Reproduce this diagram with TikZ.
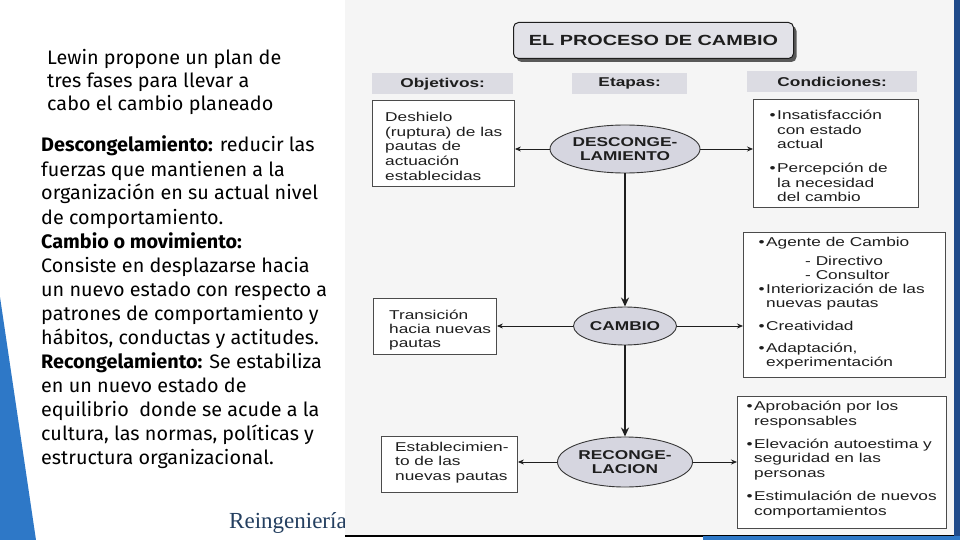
\documentclass[tikz,border=0pt]{standalone}
\usepackage{fontspec}
\setmainfont[FakeStretch=1.015]{Fira Sans}
\newfontfamily\diag[FakeStretch=1.35]{Liberation Sans}
\newfontfamily\serifr{Liberation Serif}
\usetikzlibrary{shapes.geometric,arrows.meta,shadows}
\definecolor{bandgray}{HTML}{DCDCE3}
\definecolor{ellfill}{HTML}{D6D6E0}
\definecolor{titlegray}{HTML}{E2E2E8}
\definecolor{imgbg}{HTML}{F5F5F5}
\definecolor{ink}{HTML}{1E1E1E}
\definecolor{blueL}{HTML}{2E78C7}
\definecolor{navy}{HTML}{1F4A8A}
\definecolor{reing}{HTML}{243F60}
\begin{document}
\begin{tikzpicture}[x=1pt,y=-1pt,
  lt/.style={font=\fontsize{19.5}{23}\selectfont, inner sep=0, anchor=base west, text=black},
  dt/.style={font=\diag\fontsize{12.8}{14.5}\selectfont, inner sep=0, anchor=base west, text=ink},
  frame/.style={draw=ink!80, line width=0.9pt, fill=white, inner sep=0, anchor=north west},
  band/.style={fill=bandgray, inner sep=0, anchor=north west, text=ink,
    font=\diag\bfseries\fontsize{12.8}{14.5}\selectfont},
  stage/.style={ellipse, draw=ink!90, line width=0.9pt, fill=ellfill, inner sep=0, align=center,
    text=ink, font=\diag\bfseries\fontsize{12.8}{14.5}\selectfont},
  harrow/.style={draw=ink, line width=0.8pt, -{Stealth[length=6pt,width=5pt]}},
  varrow/.style={draw=ink, line width=1.8pt, -{Stealth[length=9pt,width=8pt]}},
]
\useasboundingbox (0,0) rectangle (960,540);
\fill[white] (0,0) rectangle (960,540);
% blue wedge
\fill[blueL] (0,297) -- (36,540) -- (0,540) -- cycle;
% left text
\node[lt] (w1) at (47,65) {Lewin propone un plan de};
\node[lt] (w2) at (47,88) {tres fases para llevar a};
\node[lt] (w3) at (47,111) {cabo el cambio planeado};
\foreach \i/\t in {0/{\textbf{Descongelamiento:} reducir las},
  1/{fuerzas que mantienen a la},
  2/{organización en su actual nivel},
  3/{de comportamiento.},
  4/{\textbf{Cambio o movimiento:}},
  5/{Consiste en desplazarse hacia},
  6/{un nuevo estado con respecto a},
  7/{patrones de comportamiento y},
  8/{hábitos, conductas y actitudes.},
  9/{\textbf{Recongelamiento:} Se estabiliza},
  10/{en un nuevo estado de},
  11/{equilibrio\ \ donde se acude a la},
  12/{cultura, las normas, políticas y},
  13/{estructura organizacional.}}
  \node[lt] (p\i) at (41,152+24*\i) {\t};
\node[font=\serifr\fontsize{23}{25}\selectfont, text=reing, anchor=base west, inner sep=0] (reing) at (229,528) {Reingeniería};
% scanned picture area
\fill[imgbg] (345,0) rectangle (954,536);
\draw[black, line width=1.2pt] (345,536) -- (954,536);
\fill[navy] (954,0) rectangle (960,536);
\fill[blueL] (703,536) rectangle (960,540);
% title
\node[draw=ink, line width=1pt, rounded corners=5pt, fill=titlegray, minimum width=280, minimum height=36,
  anchor=north west, inner sep=0, text=ink, font=\diag\bfseries\fontsize{14.7}{16}\selectfont,
  drop shadow={shadow xshift=3pt, shadow yshift=-3.5pt, fill=black!65, opacity=1}] (title) at (513,22) {EL PROCESO DE CAMBIO};
% header bands
\node[band, minimum width=141, minimum height=21] (hobj) at (372,73) {Objetivos:};
\node[band, minimum width=115, minimum height=21] (heta) at (572,73) {Etapas:};
\node[band, minimum width=170, minimum height=21] (hcon) at (747,71) {Condiciones:};
% frames
\node[frame, minimum width=142, minimum height=86] (obj1) at (372,100) {};
\node[frame, minimum width=165, minimum height=108] (con1) at (753,99) {};
\node[frame, minimum width=123, minimum height=56] (obj2) at (373,298) {};
\node[frame, minimum width=202, minimum height=145] (con2) at (743,232) {};
\node[frame, minimum width=136, minimum height=56] (obj3) at (381,436) {};
\node[frame, minimum width=209, minimum height=132] (con3) at (737,396) {};
% stages
\node[stage, minimum width=150, minimum height=48] (e1) at (625,149) {DESCONGE-\\LAMIENTO};
\node[stage, minimum width=103, minimum height=38] (e2) at (625,326) {CAMBIO};
\node[stage, minimum width=135, minimum height=50] (e3) at (625,462) {RECONGE-\\LACION};
% connectors
\draw[varrow] (e1.south) -- (e2.north);
\draw[varrow] (e2.south) -- (e3.north);
\draw[harrow] (e1.west) -- (e1.west -| obj1.east);
\draw[harrow] (e1.east) -- (e1.east -| con1.west);
\draw[harrow] (e2.west) -- (e2.west -| obj2.east);
\draw[harrow] (e2.east) -- (e2.east -| con2.west);
\draw[harrow] (e3.west) -- (e3.west -| obj3.east);
\draw[harrow] (e3.east) -- (e3.east -| con3.west);
% frame texts
\foreach \i/\y/\t in {1/121.7/Deshielo, 2/136.4/{(ruptura) de las}, 3/151/{pautas de}, 4/165.8/actuación, 5/180.5/establecidas}
  \node[dt] (ta\i) at (385,\y) {\t};
\foreach \i/\y/\t in {1/120/{\llap{•\hspace{1.5pt}}Insatisfacción}, 2/134.5/{con estado}, 3/149/actual,
  4/172.7/{\llap{•\hspace{1.5pt}}Percepción de}, 5/187.2/{la necesidad}, 6/201.7/{del cambio}}
  \node[dt] (tb\i) at (777,\y) {\t};
\foreach \i/\y/\t in {1/319/Transición, 2/333.4/{hacia nuevas}, 3/347.8/pautas}
  \node[dt] (tc\i) at (389,\y) {\t};
\foreach \i/\x/\y/\t in {1/766/246.7/{\llap{•\hspace{1.5pt}}Agente de Cambio}, 2/805/265/{- Directivo}, 3/805/279/{- Consultor},
  4/766/293.3/{\llap{•\hspace{1.5pt}}Interiorización de las}, 5/766/307.5/{nuevas pautas},
  6/766/330/{\llap{•\hspace{1.5pt}}Creatividad}, 7/766/352.7/{\llap{•\hspace{1.5pt}}Adaptación,}, 8/766/366.9/experimentación}
  \node[dt] (td\i) at (\x,\y) {\t};
\foreach \i/\y/\t in {1/451/Establecimien-, 2/465.5/{to de las}, 3/480/{nuevas pautas}}
  \node[dt] (te\i) at (395,\y) {\t};
\foreach \i/\y/\t in {1/410.7/{\llap{•\hspace{1.5pt}}Aprobación por los}, 2/425/responsables,
  3/448.3/{\llap{•\hspace{1.5pt}}Elevación autoestima y}, 4/462.7/{seguridad en las}, 5/477.7/personas,
  6/500.7/{\llap{•\hspace{1.5pt}}Estimulación de nuevos}, 7/515.5/comportamientos}
  \node[dt] (tf\i) at (754,\y) {\t};
\end{tikzpicture}
\end{document}
